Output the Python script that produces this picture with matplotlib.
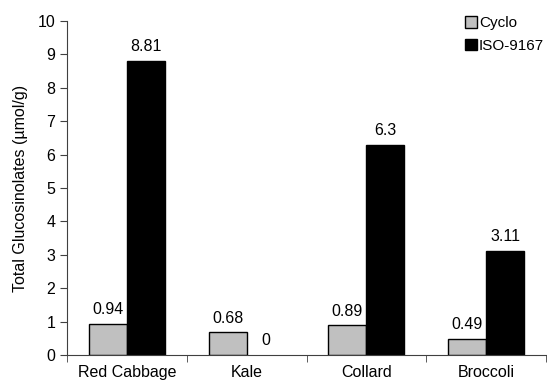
import matplotlib
matplotlib.use("Agg")
import matplotlib.pyplot as plt
import numpy as np

plt.rcParams['font.family'] = ['Liberation Sans', 'DejaVu Sans']

categories = ["Red Cabbage", "Kale", "Collard", "Broccoli"]
cyclo = [0.94, 0.68, 0.89, 0.49]
iso = [8.81, 0, 6.3, 3.11]
value_labels_cyclo = ["0.94", "0.68", "0.89", "0.49"]
value_labels_iso = ["8.81", "0", "6.3", "3.11"]

fig = plt.figure(figsize=(5.47, 3.84), dpi=100)
ax = fig.add_axes([67 / 547, 29 / 384, 479 / 547, 334 / 384])

fs = 11.5
x = np.arange(len(categories))
w = 0.317
b1 = ax.bar(x - w / 2, cyclo, w, color="#c0c0c0", edgecolor="black", linewidth=1, label="Cyclo")
b2 = ax.bar(x + w / 2, iso, w, color="black", edgecolor="black", linewidth=1, label="ISO-9167")
for patch, v in zip(b2.patches, iso):
    if v == 0:
        patch.set_linewidth(0)

for xi, v, t in zip(x - w / 2, cyclo, value_labels_cyclo):
    ax.text(xi, v + 0.2, t, ha="center", va="bottom", fontsize=fs)
for xi, v, t in zip(x + w / 2, iso, value_labels_iso):
    ax.text(xi, v + 0.2, t, ha="center", va="bottom", fontsize=fs)

ax.set_xlim(-0.5, len(categories) - 0.5)
ax.set_ylim(0, 10)
ax.set_yticks(range(0, 11))
ax.set_xticks(x)
ax.set_xticklabels(categories, fontsize=fs)
ax.tick_params(axis="x", length=0, pad=7)
# category separators on the x-axis
ax.set_xticks(np.arange(-0.5, len(categories)), minor=True)
ax.tick_params(axis="x", which="minor", length=5, direction="out", color="#404040")
ax.tick_params(axis="y", length=5, direction="out", labelsize=fs, color="#404040")
ax.set_ylabel("Total Glucosinolates (µmol/g)", fontsize=fs, labelpad=7)

for s in ["top", "right"]:
    ax.spines[s].set_visible(False)
for s in ["left", "bottom"]:
    ax.spines[s].set_color("#404040")

leg = ax.legend(loc="upper right", bbox_to_anchor=(1.025, 1.055), frameon=False,
                fontsize=11, handlelength=0.75, handleheight=0.75, handletextpad=0.15,
                labelspacing=0.55)

fig.savefig("out.png", dpi=100)
